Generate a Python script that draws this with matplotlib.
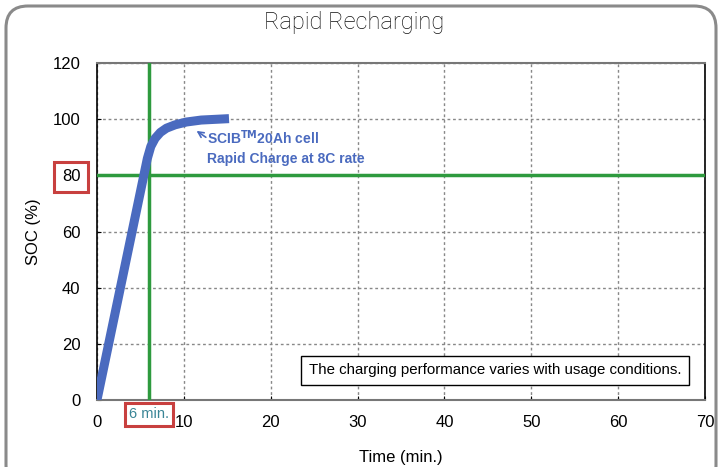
import matplotlib as mpl
mpl.use('Agg')
import matplotlib.pyplot as plt
from matplotlib.patches import FancyBboxPatch
from matplotlib.transforms import IdentityTransform, blended_transform_factory

mpl.rcParams['font.family'] = ['Liberation Sans', 'DejaVu Sans']

# charge curve of the cell
time_min = [0, 5.8, 6.2, 6.7, 7.3, 8.0, 9.0, 10.3, 12.0, 15.2]
soc = [0, 86, 90.3, 93.2, 95.3, 96.8, 98.0, 99.0, 99.7, 100.2]

marker_time = 6
marker_soc = 80
x_ticks = [0, 10, 20, 30, 40, 50, 60, 70]
y_ticks = [0, 20, 40, 60, 80, 100, 120]

blue = '#4a6abf'
green = '#2e9a3e'
red = '#c8403f'

fig = plt.figure(figsize=(7.22, 4.67), dpi=100)

# rounded outer frame
frame = FancyBboxPatch((6, -20), 710, 481,
                       boxstyle='round,pad=0,rounding_size=22',
                       transform=IdentityTransform(),
                       facecolor='none', edgecolor='#8a8a8a', lw=2.2)
fig.patches.append(frame)

fig.text(0.491, 0.951, 'Rapid Recharging', ha='center', va='center',
         fontsize=17, family=['Roboto', 'DejaVu Sans'], fontweight='light',
         color='#111111')

ax = fig.add_axes([0.1343, 0.1435, 0.8422, 0.7215])
ax.set_xlim(0, 70)
ax.set_ylim(0, 120)
ax.set_xticks(x_ticks)
ax.set_yticks(y_ticks)
ax.tick_params(labelsize=12, direction='in', length=3, width=0.8)
ax.tick_params(axis='y', pad=12)
ax.tick_params(axis='x', pad=11)
ax.grid(True, ls=(0, (2, 2)), color='#888888', lw=1)

for side in ('left', 'right'):
    ax.spines[side].set_color('black')
    ax.spines[side].set_linewidth(1.2)
for side in ('top', 'bottom'):
    ax.spines[side].set_color('#777777')
    ax.spines[side].set_linewidth(1.5)

ax.axvline(marker_time, color=green, lw=2.5, zorder=3)
ax.axhline(marker_soc, color=green, lw=2.5, zorder=3)

ax.plot(time_min, soc, color=blue, lw=6.5, solid_capstyle='butt',
        solid_joinstyle='round', zorder=4)

ax.annotate('', xy=(11.2, 96.4), xytext=(12.8, 93.0),
            arrowprops=dict(arrowstyle='->', color=blue, lw=1.2))
ax.text(12.7, 96.8, 'SCIB$^{\\mathbf{TM}}$20Ah cell\nRapid Charge at 8C rate',
        color=blue, fontsize=10, fontweight='bold', va='top', ha='left',
        linespacing=1.45)

ax.text(45.8, 10.6, 'The charging performance varies with usage conditions.',
        ha='center', va='center', fontsize=10.8, zorder=5,
        bbox=dict(boxstyle='square,pad=0.5', facecolor='white',
                  edgecolor='black', lw=1))

ax.set_xlabel('Time (min.)', fontsize=12, labelpad=14)
ax.set_ylabel('SOC (%)', fontsize=12, labelpad=8)

# red boxed labels
for lab in ax.get_yticklabels():
    if lab.get_text() == '80':
        lab.set_bbox(dict(boxstyle='square,pad=0.45', facecolor='white',
                          edgecolor=red, lw=2.2))
trans = blended_transform_factory(ax.transData, ax.transAxes)
ax.text(marker_time, -0.042, '6 min.', transform=trans, ha='center',
        va='center', fontsize=10.5, color='#3a8596',
        bbox=dict(boxstyle='square,pad=0.3', facecolor='white',
                  edgecolor=red, lw=2.2))

fig.savefig('out.png', dpi=100)
